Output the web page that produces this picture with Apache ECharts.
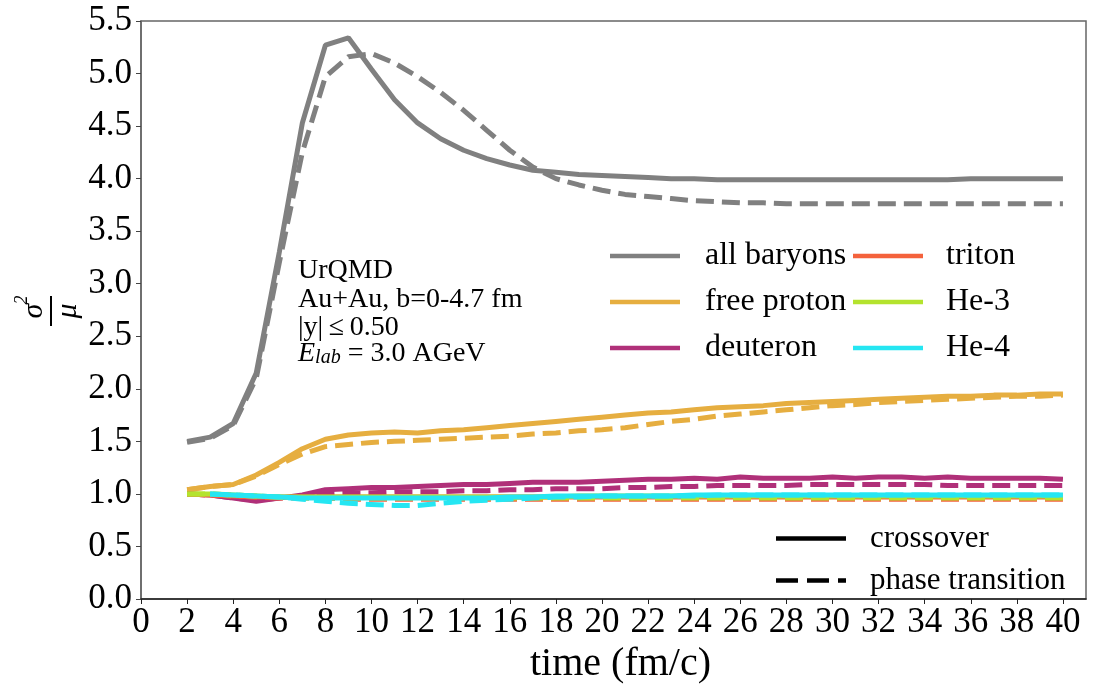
<!DOCTYPE html>
<html>
<head>
<meta charset="utf-8">
<script src="https://cdn.jsdelivr.net/npm/echarts@6/dist/echarts.min.js"></script>
<style>html,body{margin:0;padding:0;background:#fff}#c{width:1100px;height:685px}</style>
</head>
<body>
<div id="c"></div>
<script>
const times = [2,3,4,5,6,7,8,9,10,11,12,13,14,15,16,17,18,19,20,21,22,23,24,25,26,27,28,29,30,31,32,33,34,35,36,37,38,39,40];
const xTicks = [0,2,4,6,8,10,12,14,16,18,20,22,24,26,28,30,32,34,36,38,40];

const allBaryonsCross = [1.50,1.54,1.67,2.15,3.30,4.53,5.27,5.34,5.04,4.75,4.53,4.38,4.27,4.19,4.13,4.08,4.06,4.04,4.03,4.02,4.01,4.00,4.00,3.99,3.99,3.99,3.99,3.99,3.99,3.99,3.99,3.99,3.99,3.99,4.00,4.00,4.00,4.00,4.00];
const allBaryonsPT    = [1.49,1.53,1.65,2.10,3.20,4.25,4.97,5.16,5.19,5.10,4.97,4.82,4.65,4.46,4.27,4.11,4.00,3.94,3.89,3.85,3.83,3.81,3.79,3.78,3.77,3.77,3.76,3.76,3.76,3.76,3.76,3.76,3.76,3.76,3.76,3.76,3.76,3.76,3.76];
const protonCross = [1.04,1.07,1.09,1.18,1.30,1.43,1.52,1.56,1.58,1.59,1.58,1.60,1.61,1.63,1.65,1.67,1.69,1.71,1.73,1.75,1.77,1.78,1.80,1.82,1.83,1.84,1.86,1.87,1.88,1.89,1.90,1.91,1.92,1.93,1.93,1.94,1.94,1.95,1.95];
const protonPT    = [1.04,1.07,1.09,1.17,1.28,1.38,1.45,1.47,1.49,1.50,1.51,1.52,1.53,1.54,1.55,1.57,1.58,1.60,1.61,1.63,1.66,1.69,1.71,1.74,1.76,1.78,1.80,1.82,1.84,1.85,1.87,1.88,1.89,1.90,1.91,1.92,1.93,1.93,1.94];
const deuteronCross = [1.00,0.99,0.96,0.93,0.96,0.99,1.04,1.05,1.06,1.06,1.07,1.08,1.09,1.09,1.10,1.11,1.11,1.11,1.12,1.13,1.14,1.14,1.15,1.14,1.16,1.15,1.15,1.15,1.16,1.15,1.16,1.16,1.15,1.16,1.15,1.15,1.15,1.15,1.14];
const deuteronPT    = [1.00,0.99,0.96,0.94,0.96,0.98,1.00,1.01,1.01,1.02,1.02,1.02,1.03,1.03,1.04,1.04,1.05,1.05,1.05,1.06,1.06,1.07,1.07,1.08,1.08,1.08,1.08,1.09,1.09,1.09,1.09,1.09,1.09,1.08,1.08,1.08,1.08,1.08,1.08];
const tritonCross = [1.00,0.99,0.98,0.97,0.97,0.97,0.97,0.97,0.97,0.97,0.97,0.97,0.97,0.97,0.97,0.97,0.97,0.97,0.97,0.97,0.97,0.97,0.97,0.97,0.97,0.97,0.97,0.97,0.97,0.97,0.97,0.97,0.97,0.97,0.97,0.97,0.97,0.97,0.97];
const tritonPT    = [1.00,0.99,0.98,0.97,0.96,0.96,0.96,0.95,0.95,0.95,0.95,0.95,0.95,0.95,0.95,0.95,0.95,0.95,0.95,0.95,0.95,0.95,0.95,0.95,0.95,0.95,0.95,0.95,0.95,0.95,0.95,0.95,0.95,0.95,0.95,0.95,0.95,0.95,0.95];
const he3Cross = [1.00,1.00,0.99,0.98,0.97,0.97,0.97,0.97,0.97,0.97,0.97,0.97,0.97,0.97,0.97,0.97,0.97,0.98,0.98,0.98,0.98,0.98,0.98,0.98,0.98,0.98,0.98,0.98,0.98,0.98,0.98,0.98,0.98,0.98,0.98,0.98,0.98,0.98,0.98];
const he3PT    = [1.00,1.00,0.99,0.98,0.97,0.96,0.96,0.96,0.96,0.96,0.96,0.96,0.96,0.96,0.96,0.96,0.96,0.96,0.96,0.96,0.96,0.96,0.96,0.96,0.96,0.96,0.96,0.96,0.96,0.96,0.96,0.96,0.96,0.96,0.96,0.96,0.96,0.96,0.96];
const he4Cross = [null,1.00,0.99,0.98,0.97,0.96,0.96,0.96,0.96,0.96,0.96,0.96,0.96,0.96,0.97,0.97,0.98,0.98,0.98,0.98,0.98,0.98,0.99,0.99,0.99,0.99,0.99,0.99,0.99,0.99,0.99,0.99,0.99,0.99,0.99,0.99,0.99,0.99,0.99];
const he4PT    = [null,1.00,0.99,0.98,0.97,0.95,0.93,0.91,0.90,0.89,0.89,0.91,0.93,0.94,0.95,0.96,0.97,0.97,0.98,0.98,0.98,0.98,0.98,0.99,0.99,0.99,0.99,0.99,0.99,0.99,0.99,0.99,0.99,0.99,0.99,0.99,0.99,0.99,0.99];

const speciesNames = ['all baryons','free proton','deuteron','triton','He-3','He-4'];
const speciesColors = ['#808080','#e6ae40','#b03079','#f4623c','#b4e32e','#25e6f2'];
const crossData = [allBaryonsCross, protonCross, deuteronCross, tritonCross, he3Cross, he4Cross];
const ptData = [allBaryonsPT, protonPT, deuteronPT, tritonPT, he3PT, he4PT];

const FONT = '"Liberation Serif", "DejaVu Serif", serif';
const LW = 5;

function pairs(arr){ return times.map((t,i)=>[t,arr[i]]); }

const series = [];
for (let k=0;k<speciesNames.length;k++){
  series.push({
    name: speciesNames[k] + ' (phase transition)',
    type:'line', data: pairs(ptData[k]), showSymbol:false, symbol:'none',
    color: speciesColors[k],
    lineStyle:{width:LW, type:[18,8], color:speciesColors[k], cap:'butt'},
    z: 2+k, animation:false, connectNulls:false
  });
  series.push({
    name: speciesNames[k],
    type:'line', data: pairs(crossData[k]), showSymbol:false, symbol:'none',
    color: speciesColors[k],
    lineStyle:{width:LW, color:speciesColors[k]},
    z: 2+k, animation:false, connectNulls:false
  });
}
series.push({name:'crossover', type:'line', data:[], symbol:'none', color:'#000', lineStyle:{width:LW, color:'#000'}});
series.push({name:'phase transition', type:'line', data:[], symbol:'none', color:'#000', lineStyle:{width:LW, color:'#000', type:[18,8]}});

const SOLID_ICON = 'path://M0,8 L70,8 L70,12.5 L0,12.5 Z';
const DASH_ICON = 'path://M0,8 L22,8 L22,12.5 L0,12.5 Z M31,8 L53,8 L53,12.5 L31,12.5 Z M62,8 L70,8 L70,12.5 L62,12.5 Z';

const legendBase = {
  orient:'vertical', itemWidth:70, itemHeight:20, itemGap:14, padding:0,
  icon:SOLID_ICON,
  textStyle:{fontFamily:FONT, fontSize:32, color:'#000', padding:[0,0,0,20]},
  selectedMode:false
};

const chart = echarts.init(document.getElementById('c'), null, {renderer:'canvas'});
chart.setOption({
  animation:false,
  backgroundColor:'#fff',
  grid:{left:141, right:14, top:21, bottom:86, show:true, borderColor:'#666', borderWidth:1.5, containLabel:false, outerBoundsMode:'none'},
  xAxis:{
    type:'value', min:0, max:41, interval:2,
    axisLine:{show:true, lineStyle:{color:'#222', width:1.5}},
    axisTick:{show:true, length:5, lineStyle:{color:'#222'}, customValues:xTicks},
    axisLabel:{fontFamily:FONT, fontSize:35, color:'#000', margin:6, customValues:xTicks},
    splitLine:{show:false},
    name:'time (fm/c)', nameLocation:'middle', nameGap:38,
    nameTextStyle:{fontFamily:FONT, fontSize:40, color:'#000', padding:[0,0,0,14]}
  },
  yAxis:{
    type:'value', min:0, max:5.5, interval:0.5,
    axisLine:{show:true, lineStyle:{color:'#666', width:1.5}},
    axisTick:{show:true, length:5, lineStyle:{color:'#444'}},
    axisLabel:{fontFamily:FONT, fontSize:35, color:'#000', margin:9, formatter:v=>v.toFixed(1)},
    splitLine:{show:false}
  },
  legend:[
    Object.assign({}, legendBase, {left:610, top:240, data:speciesNames.slice(0,3)}),
    Object.assign({}, legendBase, {left:853, top:240, textStyle:Object.assign({}, legendBase.textStyle, {padding:[0,0,0,18]}), data:speciesNames.slice(3,6)}),
    Object.assign({}, legendBase, {left:776, top:523, itemGap:11,
      data:[{name:'crossover', icon:SOLID_ICON},{name:'phase transition', icon:DASH_ICON}],
      textStyle:{fontFamily:FONT, fontSize:31, color:'#000', padding:[0,0,0,19]}})
  ],
  graphic:[
    {type:'text', left:298, top:257, style:{text:'UrQMD', font:'28px '+FONT, fill:'#000'}},
    {type:'text', left:298, top:286, style:{text:'Au+Au, b=0-4.7 fm', font:'28px '+FONT, fill:'#000'}},
    {type:'text', left:298, top:314, style:{text:'|y|\u2009\u2264\u20090.50', font:'28px '+FONT, fill:'#000'}},
    {type:'text', left:298, top:340, style:{
      text:'{e|E}{s|lab}{n| = 3.0 AGeV}',
      rich:{
        e:{fontFamily:FONT, fontStyle:'italic', fontSize:28, color:'#000', verticalAlign:'bottom', lineHeight:32},
        s:{fontFamily:FONT, fontStyle:'italic', fontSize:20, color:'#000', verticalAlign:'bottom', lineHeight:26, padding:[8,0,0,0]},
        n:{fontFamily:FONT, fontSize:28, color:'#000', verticalAlign:'bottom', lineHeight:32}
      }}},
    {type:'group', x:51, y:311, rotation:Math.PI/2, children:[
      {type:'text', x:0, y:-2, style:{text:'\u03C3', font:'italic 30px '+FONT, fill:'#000', align:'center', verticalAlign:'bottom'}},
      {type:'text', x:11, y:-20, style:{text:'2', font:'italic 18px '+FONT, fill:'#000', align:'center', verticalAlign:'bottom'}},
      {type:'rect', shape:{x:-15, y:-1, width:30, height:2}, style:{fill:'#000'}},
      {type:'text', x:0, y:2, style:{text:'\u03BC', font:'italic 30px '+FONT, fill:'#000', align:'center', verticalAlign:'top'}}
    ]}
  ],
  series: series
});
</script>
</body>
</html>
